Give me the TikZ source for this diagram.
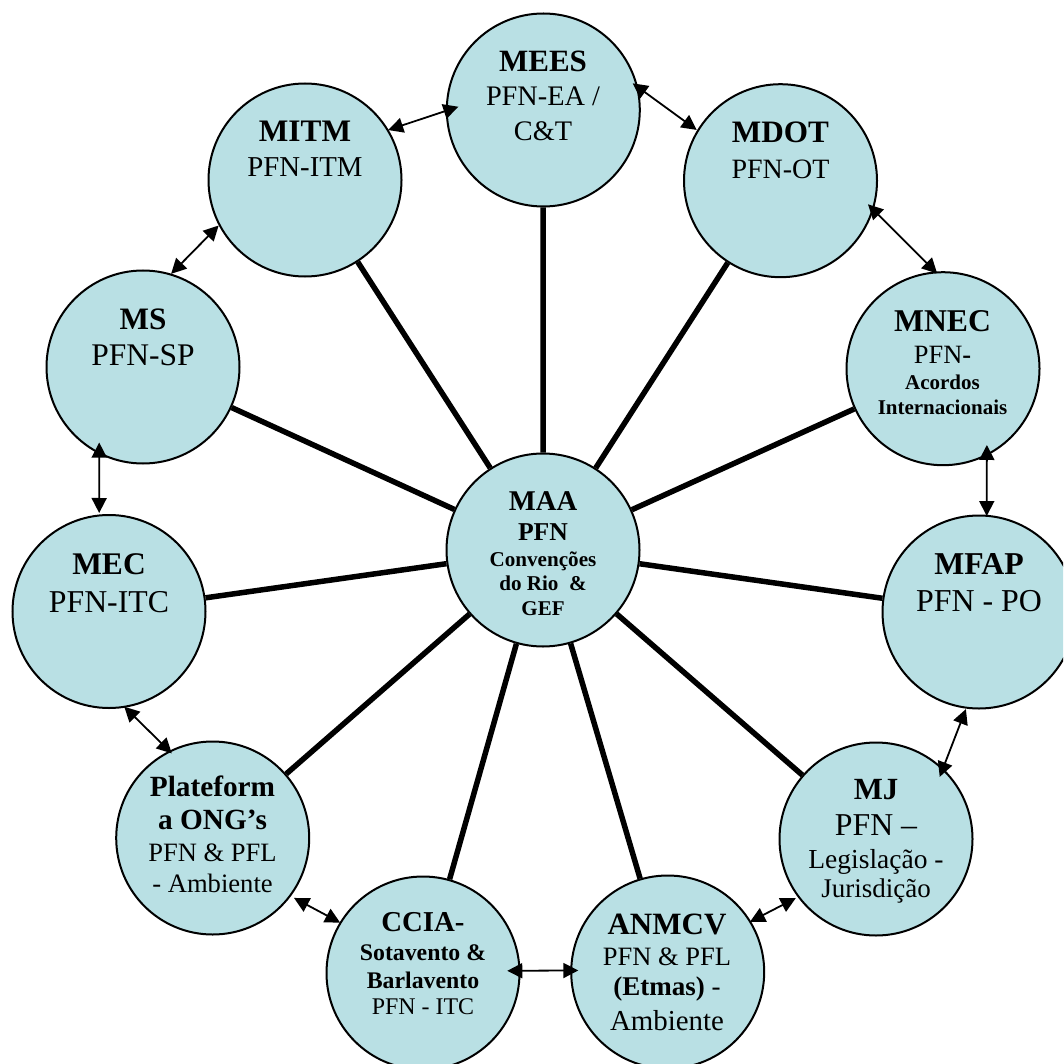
\documentclass[tikz,border=0pt]{standalone}
\usepackage{fontspec}
\setmainfont{Liberation Serif}
\usetikzlibrary{calc,arrows.meta}
\definecolor{circfill}{RGB}{185,224,228}
\newcommand\TxtLines[1]{\vtop{\baselineskip=0pt\lineskip=0pt\lineskiplimit=-\maxdimen #1}}
\newcommand\TL[2]{\hbox to 0pt{\hss\fontsize{#1}{#1}\selectfont #2\hss}}
\newcommand\TG[1]{\vskip #1pt}
\tikzset{
  ball/.style={circle, draw=black, line width=2pt, fill=circfill, minimum size=193pt, inner sep=0pt},
  txt/.style={inner sep=0pt, anchor=base},
  spoke/.style={line width=5.5pt},
  arr/.style={{Triangle[length=15pt,width=15pt]}-{Triangle[length=15pt,width=15pt]}, line width=1.8pt}
}
\begin{document}
\begin{tikzpicture}[x=1pt,y=1pt]
\useasboundingbox (0,0) rectangle (1063,-1064);
\clip (0,0) rectangle (1063,-1064);
% circles
\node[ball] (mees) at (543.3,-110) {};
\node[ball] (mitm) at (305,-180) {};
\node[ball] (mdot) at (780.5,-180.7) {};
\node[ball] (ms) at (143,-367) {};
\node[ball] (mnec) at (943,-368.7) {};
\node[ball] (mec) at (109,-611.5) {};
\node[ball] (maa) at (543,-550) {};
\node[ball] (mfap) at (979,-612) {};
\node[ball] (plat) at (212.7,-838) {};
\node[ball] (mj) at (876,-839) {};
\node[ball] (ccia) at (423,-973) {};
\node[ball] (anmcv) at (667.7,-972) {};
% spokes
\foreach \n in {mees,mitm,mdot,ms,mnec,mec,mfap,plat,mj,ccia,anmcv}
  \draw[spoke] (maa) -- (\n);
% ring arrows
\draw[arr] ($(mitm.center)+(31:97pt)$) -- ($(mees.center)+(177.8:85pt)$);
\draw[arr] ($(mees.center)+(16.6:93.3pt)$) -- ($(mdot.center)+(148.8:98pt)$);
\draw[arr] ($(mdot.center)+(-15.1:90.6pt)$) -- ($(mnec.center)+(93.5:95.4pt)$);
\draw[arr] ($(mnec.center)+(-60.1:88pt)$) -- ($(mfap.center)+(85.4:96.3pt)$);
\draw[arr] ($(mitm.center)+(207.8:97.6pt)$) -- ($(ms.center)+(73.2:97.3pt)$);
\draw[arr] ($(ms.center)+(239.9:87.3pt)$) -- ($(mec.center)+(95.7:99pt)$);
\draw[arr] ($(mec.center)+(-80.9:96.4pt)$) -- ($(plat.center)+(115.8:94pt)$);
\draw[arr] ($(plat.center)+(-36.4:101pt)$) -- ($(ccia.center)+(148.7:97pt)$);
\draw[arr] ($(ccia.center)+(1.5:84.3pt)$) -- ($(anmcv.center)+(179:89.4pt)$);
\draw[arr] ($(anmcv.center)+(31.4:96.4pt)$) -- ($(mj.center)+(216.4:99.7pt)$);
\draw[arr] ($(mj.center)+(44.3:89pt)$) -- ($(mfap.center)+(262.3:98pt)$);
% texts
\node[txt] (mees-t) at (543,-71.7) {\TxtLines{\TL{31}{\bfseries MEES}\TG{34.3}\TL{28.3}{PFN-EA /}\TG{34.7}\TL{28.3}{C\&T}}};
\node[txt] (mitm-t) at (305,-141.9) {\TxtLines{\TL{31.3}{\bfseries MITM}\TG{34.4}\TL{28.8}{PFN-ITM}}};
\node[txt] (mdot-t) at (780.5,-142.7) {\TxtLines{\TL{31.2}{\bfseries MDOT}\TG{35.6}\TL{28}{PFN-OT}}};
\node[txt] (ms-t) at (143,-329.5) {\TxtLines{\TL{31.2}{\bfseries MS}\TG{36.2}\TL{31.5}{PFN-SP}}};
\node[txt] (mnec-t) at (942.5,-331.7) {\TxtLines{\TL{31.7}{\bfseries MNEC}\TG{31.9}\TL{26.4}{PFN{\bfseries -}}\TG{25.9}\TL{21}{\bfseries Acordos}\TG{25}\TL{21}{\bfseries Internacionais}}};
\node[txt] (mec-t) at (109,-574.8) {\TxtLines{\TL{31.5}{\bfseries MEC}\TG{37.2}\TL{31.8}{PFN-ITC}}};
\node[txt] (maa-t) at (543,-510) {\TxtLines{\TL{28.6}{\bfseries MAA}\TG{30.7}\TL{25.7}{\bfseries PFN}\TG{26}\TL{21.1}{\bfseries Convenções}\TG{23.3}\TL{21.1}{\bfseries do Rio~ \&}\TG{25.7}\TL{21}{\bfseries GEF}}};
\node[txt] (mfap-t) at (979,-574.5) {\TxtLines{\TL{31.8}{\bfseries MFAP}\TG{36.5}\TL{31.9}{PFN - PO}}};
\node[txt] (plat-t) at (212.5,-796.5) {\TxtLines{\TL{29.3}{\bfseries Plateform}\TG{33.4}\TL{29.3}{\bfseries a ONG’s}\TG{32}\TL{26.5}{PFN \& PFL}\TG{30.5}\TL{26.6}{- Ambiente}}};
\node[txt] (mj-t) at (876,-799.3) {\TxtLines{\TL{30.8}{\bfseries MJ}\TG{36.5}\TL{31.8}{PFN –}\TG{32.2}\TL{27.5}{Legislação -}\TG{29.5}\TL{27}{Jurisdição}}};
\node[txt] (ccia-t) at (423,-931.2) {\TxtLines{\TL{28.8}{\bfseries CCIA-}\TG{29.5}\TL{23.8}{\bfseries Sotavento \&}\TG{27.7}\TL{23.8}{\bfseries Barlavento}\TG{26.1}\TL{23.9}{PFN - ITC}}};
\node[txt] (anmcv-t) at (667,-934.6) {\TxtLines{\TL{31}{\bfseries ANMCV}\TG{31.3}\TL{26.5}{PFN \& PFL}\TG{29.5}\TL{27}{{\bfseries (Etmas)} -}\TG{34.6}\TL{28.9}{Ambiente}}};
\end{tikzpicture}
\end{document}
